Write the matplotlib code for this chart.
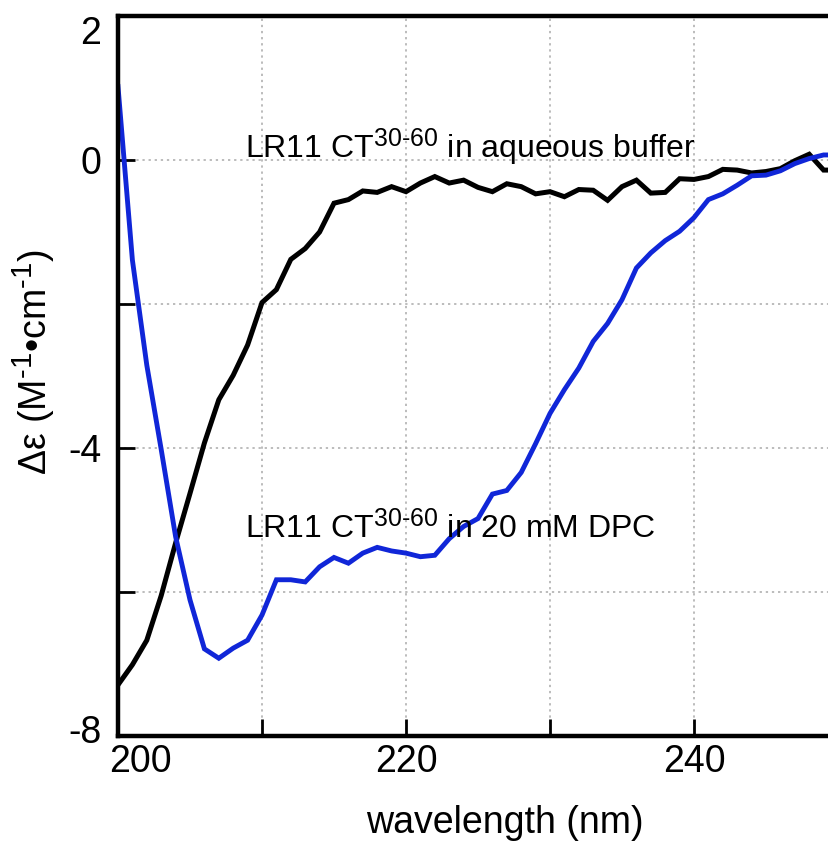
import matplotlib
matplotlib.use("Agg")
import matplotlib.pyplot as plt
import matplotlib.transforms as mtransforms

# slightly larger superscripts, as in the original
try:
    import matplotlib._mathtext as _mt
    _mt.SHRINK_FACTOR = 0.78
except Exception:
    pass

plt.rcParams['font.family'] = ['Liberation Sans', 'DejaVu Sans']
plt.rcParams['mathtext.fontset'] = 'custom'
plt.rcParams['mathtext.rm'] = 'Liberation Sans'
plt.rcParams['mathtext.it'] = 'Liberation Sans:italic'
plt.rcParams['axes.unicode_minus'] = False

# CD spectra, 1 nm steps
wavelength = list(range(200, 251))
aqueous = [-7.29, -7.01, -6.67, -6.05, -5.32, -4.63, -3.93, -3.33, -2.99, -2.57,
           -1.98, -1.80, -1.38, -1.23, -1.00, -0.60, -0.55, -0.43, -0.45, -0.37,
           -0.44, -0.32, -0.23, -0.32, -0.28, -0.38, -0.44, -0.33, -0.37, -0.47,
           -0.44, -0.51, -0.41, -0.42, -0.56, -0.37, -0.28, -0.46, -0.45, -0.26,
           -0.27, -0.23, -0.13, -0.14, -0.18, -0.16, -0.12, -0.01, 0.08, -0.14,
           -0.14]
dpc = [1.02, -1.39, -2.85, -4.02, -5.23, -6.11, -6.79, -6.92, -6.78, -6.67,
       -6.32, -5.83, -5.83, -5.86, -5.65, -5.52, -5.60, -5.46, -5.38, -5.43,
       -5.46, -5.51, -5.49, -5.26, -5.09, -4.98, -4.64, -4.59, -4.34, -3.94,
       -3.52, -3.19, -2.89, -2.52, -2.27, -1.94, -1.50, -1.29, -1.12, -0.99,
       -0.80, -0.55, -0.47, -0.35, -0.22, -0.21, -0.15, -0.05, 0.02, 0.07,
       0.07]

x_ticks = [200, 210, 220, 230, 240, 250]
x_labels = ['200', '', '220', '', '240', '']
y_ticks = [-8, -6, -4, -2, 0, 2]
y_labels = ['-8', '', '-4', '', '0', '2']

fig = plt.figure(figsize=(8.29, 8.44), dpi=100)
# right spine lies just outside the picture
ax = fig.add_axes([118 / 829, 108 / 844, 720 / 829, 720 / 844])

ax.plot(wavelength, aqueous, color='black', lw=3.6, solid_joinstyle='miter')
ax.plot(wavelength, dpc, color='#1026d8', lw=3.5, solid_joinstyle='miter')

ax.set_xlim(200, 250)
ax.set_ylim(-8, 2)
ax.set_xticks(x_ticks)
ax.set_xticklabels(x_labels)
ax.set_yticks(y_ticks)
ax.set_yticklabels(y_labels)
ax.grid(True, color='#aaaaaa', linestyle=(0, (1.5, 2.5)), linewidth=1.1)
ax.set_axisbelow(True)

for s in ax.spines.values():
    s.set_linewidth(3.2)
ax.tick_params(direction='in', length=12, width=2, labelsize=27, pad=6)
ax.tick_params(axis='y', pad=12)

# shift corner labels like the original
def shift(lbl, dx, dy):
    lbl.set_transform(lbl.get_transform() +
                      mtransforms.ScaledTranslation(dx / 100, dy / 100, fig.dpi_scale_trans))

shift(ax.get_xticklabels()[0], 22, 0)
shift(ax.get_yticklabels()[-1], 0, -14)
shift(ax.get_yticklabels()[0], 0, 7)

ax.set_xlabel('wavelength (nm)', fontsize=27)
ax.xaxis.set_label_coords((505 - 118) / 720, (736 - 833) / 720)
ax.xaxis.label.set_va('baseline')

ax.set_ylabel(r'Δε (M$^{\text{-}1}$•cm$^{\text{-}1}$)', fontsize=27)
ax.yaxis.set_label_coords((33 - 118) / 720, (736 - 362) / 720)
ax.yaxis.label.set_va('center')

ax.text(208.82, 0.03, r'LR11 CT$^{30\text{-}60}$ in aqueous buffer', fontsize=23, va='baseline')
ax.text(208.82, -5.25, r'LR11 CT$^{30\text{-}60}$ in 20 mM DPC', fontsize=23, va='baseline')

fig.savefig('out.png', dpi=100)
